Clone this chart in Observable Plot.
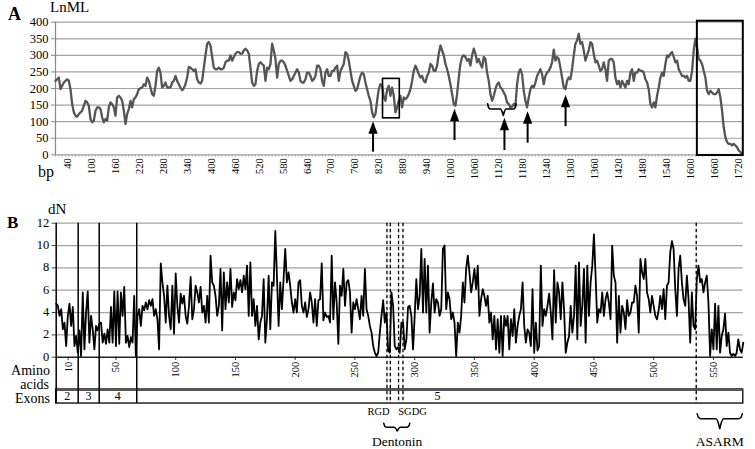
<!DOCTYPE html>
<html><head><meta charset="utf-8">
<script src="https://cdn.jsdelivr.net/npm/d3@7"></script>
<script src="https://cdn.jsdelivr.net/npm/@observablehq/plot@0.6"></script>
<style>
body{margin:0;background:#fff;}
#wrap{position:relative;width:755px;height:449px;overflow:hidden;font-family:"Liberation Serif","Times New Roman","DejaVu Serif",serif;color:#000;}
#a{position:absolute;left:0;top:0;}
#b{position:absolute;left:0;top:180px;}
.lbl{position:absolute;line-height:1;white-space:nowrap;}
</style></head><body>
<div id="wrap">
<div id="a"></div><div id="b"></div>
<div class="lbl" style="left:8px;top:5px;font-size:18px;font-weight:bold;">A</div>
<div class="lbl" style="left:50px;top:-0.5px;font-size:15px;">LnML</div>
<div class="lbl" style="left:38px;top:163.5px;font-size:16px;">bp</div>
<div class="lbl" style="left:7px;top:214px;font-size:17px;font-weight:bold;">B</div>
<div class="lbl" style="left:48px;top:201.5px;font-size:15px;">dN</div>
<div class="lbl" style="right:705px;top:363.6px;font-size:14px;text-align:right;">Amino</div>
<div class="lbl" style="right:706px;top:377.8px;font-size:14px;text-align:right;">acids</div>
<div class="lbl" style="right:705px;top:392px;font-size:14px;text-align:right;">Exons</div>
</div>
<script>
// ---------- Panel A data: LnML along the sequence (bp) ----------
const lnml = [
223,228,233,198,208,218,223,228,223,198,153,128,118,115,123,128,133,148,163,158,
148,108,98,103,133,143,143,138,113,98,108,103,143,158,153,143,118,173,178,173,
163,133,93,123,138,163,143,168,173,183,198,201,203,213,208,233,223,203,183,178,
208,253,263,248,203,208,218,203,203,203,218,223,238,223,213,203,195,201,213,233,
265,263,258,253,258,228,218,215,223,263,300,335,340,330,295,263,258,258,263,258,
258,263,279,284,284,300,284,295,305,310,310,305,305,315,320,315,305,263,218,208,
213,253,274,279,
274,269,223,263,258,274,335,315,289,233,274,284,284,279,269,253,238,223,228,238,
248,258,248,223,218,218,228,248,248,238,223,228,238,269,269,258,223,208,248,258,
238,238,253,253,263,269,223,253,263,274,310,305,284,253,223,208,193,198,218,238,
248,243,218,198,178,163,128,113,123,163,198,213,208,173,163,198,208,178,203,178,
128,143,163,178,143,173,168,173,183,198,223,253,269,258,243,233,238,223,218,238,
248,274,269,253,253,269,305,330,315,300,274,258,238,213,183,153,148,183,233,274,
295,300,295,284,289,269,300,320,305,279,289,274,263,295,289,248,223,183,163,178,
198,213,218,203,198,188,178,158,153,143,
145,153,148,213,248,258,243,193,163,143,173,198,208,203,218,238,248,258,243,213,
238,248,253,263,279,317,284,295,289,263,233,203,198,223,233,228,258,300,335,345,
365,335,340,315,284,300,315,340,335,305,279,284,269,253,258,279,258,223,284,289,
289,279,233,213,223,203,223,213,203,223,213,248,258,223,248,248,258,253,253,248,
228,218,198,153,143,158,143,178,203,233,248,238,274,300,295,305,310,295,279,284,
258,248,238,238,233,238,223,223,253,315,350,325,289,284,274,253,233,193,183,193,
188,183,183,188,198,173,133,83,53,38,33,33,28,33,28,23,13,8,3
];
const bpStart = 10, bpStep = 4.172;
const yTicksA = [0,50,100,150,200,250,300,350,400];
const xLabelsA = [40,100,160,220,280,340,400,460,520,580,640,700,760,820,880,940,1000,1060,1120,1180,1240,1300,1360,1420,1480,1540,1600,1660,1720];
// arrows (bp position, tip, base)
const arrowBp = [805,1009,1134,1192,1287];
const arrowTip = [101,139,112,131,181];
const arrowBase = [8,43,13,35,85];
// boxes
const boxX1 = [830,1617], boxX2 = [872,1732], boxY1 = [110,-2], boxY2 = [229,403], boxW = [1.6,2];

// ---------- Panel B data: dN along the protein (amino acids) ----------
const dn = [
4.8,4.6,3.7,4.3,2.5,3.1,1.0,3.7,4.8,2.8,4.5,1.0,1.9,0.4,2.4,0.1,5.8,0.7,4.0,5.9,
1.3,3.7,2.5,0.7,2.8,2.4,3.0,3.1,1.3,2.1,1.2,2.5,1.3,4.5,1.3,5.9,1.0,5.9,1.2,5.8,
3.7,6.3,1.3,1.9,0.9,1.8,1.3,5.5,0.1,3.7,4.3,2.8,4.6,4.2,4.9,4.3,5.1,4.6,5.2,3.7,
4.3,3.4,0.7,8.4,6.7,5.5,3.1,6.4,3.7,
2.5,6.4,2.1,7.5,4.6,3.1,5.7,4.8,5.5,3.7,3.0,4.6,7.2,3.4,4.3,6.4,5.8,4.9,6.3,4.0,
4.6,3.1,5.5,3.1,9.1,6.7,6.4,5.5,3.7,4.6,7.9,2.4,7.6,4.3,6.7,4.9,7.9,4.5,5.8,5.1,
7.0,6.1,6.9,5.8,7.3,6.1,8.2,3.7,8.5,3.7,5.2,2.8,4.6,1.6,3.1,3.7,7.0,1.3,3.4,7.3,
2.5,6.7,6.4,11.3,7.3,2.8,6.7,4.3,7.0,
9.7,6.7,7.6,6.4,4.9,4.0,5.2,4.0,6.7,6.9,4.6,4.0,4.9,3.6,4.3,5.8,4.9,3.1,5.2,2.8,
5.1,5.2,8.4,3.3,4.0,3.6,3.7,3.1,9.1,3.4,6.7,4.9,1.2,6.4,5.5,7.9,4.6,6.7,6.9,5.8,
2.2,4.9,4.3,5.2,4.3,3.4,5.5,3.7,7.9,4.3,3.7,2.8,2.2,1.0,0.4,0.1,0.4,2.2,3.7,5.1,
3.1,4.0,0.6,0.4,5.8,4.6,1.0,0.7,0.9,
0.4,3.1,3.1,0.7,1.6,4.5,4.6,3.7,0.7,3.7,7.0,4.3,5.5,9.7,4.0,8.8,4.0,8.2,2.2,4.9,
6.6,4.0,5.2,4.9,3.7,4.3,9.7,10.0,4.3,5.8,5.2,3.4,4.0,3.1,0.1,3.1,2.2,3.7,6.7,4.9,
7.9,9.1,7.6,5.8,6.7,7.9,6.1,8.2,3.7,5.2,6.1,5.5,4.6,5.5,3.1,4.0,1.6,3.7,0.7,3.4,
0.4,3.7,0.1,3.7,2.8,3.7,0.7,3.4,1.9,
4.3,1.3,2.8,3.7,4.3,6.7,2.8,1.3,2.5,2.2,1.0,6.1,0.4,3.1,0.6,1.0,8.2,2.8,4.3,3.7,
4.6,5.7,4.0,1.6,7.8,3.1,6.7,5.8,3.4,6.7,4.3,0.4,1.3,1.9,4.6,2.2,3.7,8.2,1.6,8.5,
2.8,4.6,7.9,1.3,8.2,3.7,6.7,8.2,11.0,7.3,3.1,4.3,4.0,5.8,3.7,5.2,5.8,4.9,3.4,10.0,
7.3,6.7,1.3,5.5,2.2,4.6,4.0,2.5,5.1,
3.7,4.0,4.9,4.9,6.4,5.5,2.2,8.8,7.6,7.0,8.8,5.8,5.2,4.0,5.5,4.6,3.7,3.4,4.2,5.5,
4.3,6.1,3.4,6.4,6.7,9.4,10.4,9.7,6.1,3.7,7.9,9.1,6.7,5.2,4.6,7.3,5.2,1.3,5.8,2.8,
2.5,7.0,8.2,6.7,7.0,5.8,6.7,7.3,4.9,0.1,2.5,0.7,4.8,0.7,4.6,0.4,1.9,2.5,3.9,1.0,
2.2,0.4,0.1,0.3,0.1,0.4,1.6,0.7,0.4,1.3
];
const aaMax = 575;
const yTicksB = [0,2,4,6,8,10,12];
const aaTicks = [10,50,100,150,200,250,300,350,400,450,500,550];
const exonBounds = [18.4,36,67.4];
const exonNames = ["2","3","4","5"];
const exonLabelAa = [9.2,27,51.5,319];
const motifLines = [276.8,279.6,286.5,290.2,535.6];
const motifNames = ["RGD","SGDG"];
const motifLabelAa = [269.7,298.2];
const regionNames = ["Dentonin","ASARM"];
const regionX0 = [274.1,536.4], regionX1 = [295.9,574.1], regionMid = [285.4,555.3];
const regionTop = [-5.91,-5.07], regionFlat = [-6.27,-5.51], regionTip = [-6.62,-6.41];
const exonTop = -2.89, exonBottom = -4.15;

const font = "'Liberation Serif', 'Times New Roman', 'DejaVu Serif', serif";
const headSymbol = {draw(ctx){ ctx.moveTo(0,0); ctx.lineTo(4.6,12.5); ctx.lineTo(-4.6,12.5); ctx.closePath(); }};
const str = d => String(d);

function brace(x0,x1,xm,yTop,yFlat,yTip,d){
  return [[x0,yTop],[x0+d*0.35,yFlat+(yTop-yFlat)*0.25],[x0+d,yFlat],[xm-d,yFlat],[xm-d*0.25,yFlat+(yTip-yFlat)*0.6],[xm,yTip],
          [xm+d*0.25,yFlat+(yTip-yFlat)*0.6],[xm+d,yFlat],[x1-d,yFlat],[x1-d*0.35,yFlat+(yTop-yFlat)*0.25],[x1,yTop]];
}

// ---------- Panel A ----------
const dataA = lnml.map((v,i)=>({bp: bpStart + i*bpStep, v}));
const arrowsA = arrowBp.map((bp,i)=>({bp, tip: arrowTip[i], base: arrowBase[i]}));
const boxesA = boxX1.map((x,i)=>({x1:x, x2:boxX2[i], y1:boxY1[i], y2:boxY2[i], w:boxW[i]}));
const braceA = brace(1092,1163,1131,154,138,118,7);

const plotA = Plot.plot({
  width:755, height:180, marginLeft:55, marginRight:12.2, marginTop:21.7, marginBottom:25.7,
  x:{domain:[10,1732], axis:null}, y:{domain:[0,400], axis:null},
  style:{fontFamily:font, background:"white", color:"black", overflow:"visible"},
  marks:[
    Plot.ruleY(yTicksA, {x1:10, x2:1732, stroke:"#a3a3a3", strokeWidth:1.2}),
    Plot.ruleY(yTicksA, {x1:0, x2:10, stroke:"#888"}),
    Plot.ruleX([10], {y1:0, y2:400, stroke:"#888", strokeWidth:1.2}),
    Plot.ruleX(dataA.filter((d,i)=>i%2===0), {x:"bp", y1:0, y2:-7, stroke:"#999", strokeWidth:0.8}),
    Plot.text(yTicksA, {x:10, y:d=>d, text:str, dx:-7, textAnchor:"end", fontSize:12.5, fontFamily:font, fill:"black"}),
    Plot.text(xLabelsA, {x:d=>d, y:0, text:str, dy:3.5, rotate:-90, textAnchor:"end", fontSize:10.5, fontFamily:font, fill:"black"}),
    Plot.line(dataA, {x:"bp", y:"v", stroke:"#555", strokeWidth:2.3}),
    Plot.rect(boxesA, {x1:"x1", x2:"x2", y1:"y1", y2:"y2", fill:"none", stroke:"black", strokeWidth:"w"}),
    Plot.ruleX(arrowsA, {x:"bp", y1:"base", y2:d=>d.tip-30, stroke:"black", strokeWidth:2}),
    Plot.dot(arrowsA, {x:"bp", y:"tip", symbol:headSymbol, r:5, fill:"black", stroke:"none"}),
    Plot.line(braceA, {x:d=>d[0], y:d=>d[1], curve:"monotone-x", stroke:"black", strokeWidth:1.6})
  ]
});
document.getElementById("a").appendChild(plotA);

// ---------- Panel B ----------
const aaStep = aaMax/(dn.length-1);
const dataB = dn.map((v,i)=>({aa: i*aaStep, v}));
const exonLabels = exonNames.map((t,i)=>({t, aa: exonLabelAa[i]}));
const motifLabels = motifNames.map((t,i)=>({t, aa: motifLabelAa[i]}));
const regions = regionNames.map((t,i)=>({t, mid: regionMid[i], tip: regionTip[i]}));
const braceB = regionNames.map((t,i)=>brace(regionX0[i],regionX1[i],regionMid[i],regionTop[i],regionFlat[i],regionTip[i], i===0?2.6:3.2));

const plotB = Plot.plot({
  width:755, height:269, marginLeft:55.7, marginRight:12.2, marginTop:42.7, marginBottom:92.3,
  x:{domain:[0,aaMax], axis:null}, y:{domain:[0,12], axis:null},
  style:{fontFamily:font, background:"white", color:"black", overflow:"visible"},
  marks:[
    Plot.ruleY(yTicksB.filter(d=>d>0), {x1:0, x2:aaMax, stroke:"#a3a3a3", strokeWidth:1.2}),
    Plot.ruleY(yTicksB, {x1:-3.4, x2:0, stroke:"#444"}),
    Plot.text(yTicksB, {x:0, y:d=>d, text:str, dx:-7, dy:-0.6, textAnchor:"end", fontSize:12.5, fontFamily:font, fill:"black"}),
    Plot.ruleX(aaTicks, {y1:0, y2:-0.3, stroke:"#333"}),
    Plot.text(aaTicks, {x:d=>d, y:0, text:str, dy:4.5, rotate:-90, textAnchor:"end", fontSize:10.5, fontFamily:font, fill:"black"}),
    Plot.line(dataB, {x:"aa", y:"v", stroke:"black", strokeWidth:1.8}),
    Plot.ruleY([0], {x1:0, x2:aaMax, stroke:"#222", strokeWidth:1.6}),
    Plot.rect([{x1:0, x2:aaMax, y1:exonBottom, y2:exonTop}], {x1:"x1", x2:"x2", y1:"y1", y2:"y2", fill:"none", stroke:"black", strokeWidth:1.3}),
    Plot.ruleY([exonTop], {x1:0, x2:aaMax, stroke:"#555", strokeWidth:3}),
    Plot.ruleX([0, ...exonBounds], {y1:12, y2:exonBottom, stroke:"black", strokeWidth:1.5}),
    Plot.ruleX(motifLines, {y1:12, y2:exonBottom, stroke:"black", strokeWidth:1.3, strokeDasharray:"3.5,2.5"}),
    Plot.text(exonLabels, {x:"aa", y:(exonTop+exonBottom)/2, text:"t", fontSize:12, fontFamily:font, fill:"black"}),
    Plot.text(motifLabels, {x:"aa", y:-4.9, text:"t", fontSize:10.5, fontFamily:font, fill:"black"}),
    ...braceB.map(pts=>Plot.line(pts, {x:d=>d[0], y:d=>d[1], curve:"monotone-x", stroke:"black", strokeWidth:1.5})),
    Plot.text(regions, {x:"mid", y:-7.55, text:"t", fontSize:13.5, fontFamily:font, fill:"black"})
  ]
});
document.getElementById("b").appendChild(plotB);
</script>
</body></html>
